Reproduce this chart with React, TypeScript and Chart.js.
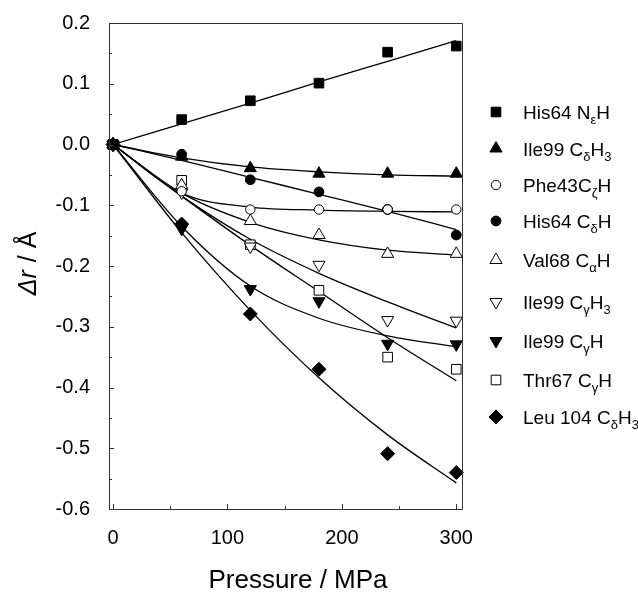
import React, { useEffect, useRef } from "react";
import { Chart, registerables } from "chart.js";
Chart.register(...registerables);

// ---------- data ----------
const pressure = [0, 60, 120, 180, 240, 300];

const seriesNames = [
  "His64 N{ε}H",
  "Ile99 C{δ}H{3}",
  "Phe43C{ζ}H",
  "His64 C{δ}H",
  "Val68 C{α}H",
  "Ile99 C{γ}H{3}",
  "Ile99 C{γ}H",
  "Thr67 C{γ}H",
  "Leu 104 C{δ}H{3}",
];

const his64NeH = [0, 0.041, 0.072, 0.101, 0.152, 0.162];
const ile99CdH3 = [0, -0.02, -0.039, -0.048, -0.048, -0.048];
const phe43CzH = [0, -0.077, -0.107, -0.107, -0.107, -0.107];
const his64CdH = [0, -0.016, -0.058, -0.078, -0.107, -0.149];
const val68CaH = [0, -0.067, -0.126, -0.149, -0.18, -0.18];
const ile99CgH3 = [0, -0.079, -0.168, -0.198, -0.289, -0.29];
const ile99CgH = [0, -0.139, -0.238, -0.258, -0.328, -0.329];
const thr67CgH = [0, -0.059, -0.165, -0.24, -0.35, -0.37];
const leu104CdH3 = [0, -0.131, -0.279, -0.37, -0.509, -0.54];

// fitted curves
const fitPressure = [0, 60, 120, 180, 240, 300];
const his64NeHFit = [0, 0.034, 0.068, 0.103, 0.137, 0.171];
const ile99CdH3Fit = [0, -0.022, -0.037, -0.045, -0.05, -0.052];
const phe43CzHFit = [0, -0.08, -0.103, -0.108, -0.11, -0.111];
const his64CdHFit = [0, -0.026, -0.054, -0.082, -0.11, -0.14];
const val68CaHFit = [0, -0.08, -0.128, -0.157, -0.174, -0.182];
const ile99CgH3Fit = [0, -0.085, -0.156, -0.212, -0.259, -0.302];
const ile99CgHFit = [0, -0.135, -0.233, -0.286, -0.315, -0.333];
const thr67CgHFit = [0, -0.085, -0.166, -0.242, -0.318, -0.389];
const leu104CdH3Fit = [0, -0.145, -0.273, -0.384, -0.478, -0.557];

const xTickValues = [0, 100, 200, 300];
const xMinorTickValues = [50, 150, 250];
const yTickValues = [0.2, 0.1, 0.0, -0.1, -0.2, -0.3, -0.4, -0.5, -0.6];
const yMinorTickValues = [0.15, 0.05, -0.05, -0.15, -0.25, -0.35, -0.45, -0.55];

const xTitle = "Pressure / MPa";
const yTitleItalic = "Δr";
const yTitleRest = " / Å";

// ---------- styling ----------
const FONT = "'Liberation Sans', Arial, Helvetica, sans-serif";

type Marker = { style: string; radius: number; filled: boolean; rotation: number };
const markers: Marker[] = [
  { style: "rect", radius: 6.8, filled: true, rotation: 0 },
  { style: "triangle", radius: 7, filled: true, rotation: 0 },
  { style: "circle", radius: 4.7, filled: false, rotation: 0 },
  { style: "circle", radius: 4.9, filled: true, rotation: 0 },
  { style: "triangle", radius: 7, filled: false, rotation: 0 },
  { style: "triangle", radius: 7, filled: false, rotation: 180 },
  { style: "triangle", radius: 7, filled: true, rotation: 180 },
  { style: "rect", radius: 6.8, filled: false, rotation: 0 },
  { style: "rectRot", radius: 7, filled: true, rotation: 0 },
];

const pointSeries = [his64NeH, ile99CdH3, phe43CzH, his64CdH, val68CaH, ile99CgH3, ile99CgH, thr67CgH, leu104CdH3];
const fitSeries = [his64NeHFit, ile99CdH3Fit, phe43CzHFit, his64CdHFit, val68CaHFit, ile99CgH3Fit, ile99CgHFit, thr67CgHFit, leu104CdH3Fit];

function plainName(n: string) {
  return n.replace(/[{}]/g, "");
}

function parseName(n: string): { text: string; sub: boolean }[] {
  const parts: { text: string; sub: boolean }[] = [];
  const re = /\{([^}]*)\}|([^{]+)/g;
  let m: RegExpExecArray | null;
  while ((m = re.exec(n))) {
    if (m[1] !== undefined) parts.push({ text: m[1], sub: true });
    else parts.push({ text: m[2], sub: false });
  }
  return parts;
}

function drawMarker(ctx: CanvasRenderingContext2D, mk: Marker, x: number, y: number) {
  const r = mk.radius;
  ctx.save();
  ctx.beginPath();
  if (mk.style === "circle") {
    ctx.arc(x, y, r, 0, Math.PI * 2);
  } else if (mk.style === "rect") {
    const s = Math.SQRT1_2 * r;
    ctx.rect(x - s, y - s, 2 * s, 2 * s);
  } else if (mk.style === "rectRot") {
    ctx.moveTo(x - r, y);
    ctx.lineTo(x, y - r);
    ctx.lineTo(x + r, y);
    ctx.lineTo(x, y + r);
    ctx.closePath();
  } else if (mk.style === "triangle") {
    let rad = (mk.rotation * Math.PI) / 180;
    ctx.moveTo(x + Math.sin(rad) * r, y - Math.cos(rad) * r);
    rad += (2 * Math.PI) / 3;
    ctx.lineTo(x + Math.sin(rad) * r, y - Math.cos(rad) * r);
    rad += (2 * Math.PI) / 3;
    ctx.lineTo(x + Math.sin(rad) * r, y - Math.cos(rad) * r);
    ctx.closePath();
  }
  ctx.fillStyle = mk.filled ? "#000" : "#fff";
  ctx.fill();
  ctx.lineWidth = 1;
  ctx.strokeStyle = "#000";
  ctx.stroke();
  ctx.restore();
}

const legendRowsY = [112, 148.5, 185, 221, 260, 302, 341, 380, 417];

const decorPlugin = {
  id: "decor",
  afterDatasetsDraw(chart: any) {
    const ctx: CanvasRenderingContext2D = chart.ctx;
    const { left, right, top, bottom } = chart.chartArea;
    const xs = chart.scales.x;
    const ys = chart.scales.y;
    ctx.save();
    ctx.strokeStyle = "#333";
    ctx.lineWidth = 1;
    ctx.beginPath();
    ctx.rect(Math.round(left) + 0.5, Math.round(top) + 0.5, Math.round(right - left), Math.round(bottom - top));
    ctx.stroke();
    ctx.beginPath();
    const major = 5;
    const minor = 3;
    xTickValues.forEach((v) => {
      const px = Math.round(xs.getPixelForValue(v)) + 0.5;
      ctx.moveTo(px, bottom);
      ctx.lineTo(px, bottom - major);
    });
    xMinorTickValues.forEach((v) => {
      const px = Math.round(xs.getPixelForValue(v)) + 0.5;
      ctx.moveTo(px, bottom);
      ctx.lineTo(px, bottom - minor);
    });
    yTickValues.forEach((v) => {
      const py = Math.round(ys.getPixelForValue(v)) + 0.5;
      ctx.moveTo(left, py);
      ctx.lineTo(left + major, py);
    });
    yMinorTickValues.forEach((v) => {
      const py = Math.round(ys.getPixelForValue(v)) + 0.5;
      ctx.moveTo(left, py);
      ctx.lineTo(left + minor, py);
    });
    ctx.stroke();
    ctx.restore();
  },
  afterDraw(chart: any) {
    const ctx: CanvasRenderingContext2D = chart.ctx;
    const { top, bottom } = chart.chartArea;
    ctx.save();
    ctx.fillStyle = "#000";
    // x title
    ctx.font = `26px ${FONT}`;
    ctx.textAlign = "center";
    ctx.textBaseline = "alphabetic";
    ctx.fillText(xTitle, 298, 588);
    // y title (rotated)
    ctx.save();
    const cy = (top + bottom) / 2 - 2;
    ctx.translate(36, cy);
    ctx.rotate(-Math.PI / 2);
    ctx.textAlign = "left";
    ctx.font = `italic 25px ${FONT}`;
    const w1 = ctx.measureText(yTitleItalic).width;
    ctx.font = `25px ${FONT}`;
    const w2 = ctx.measureText(yTitleRest).width;
    const start = -(w1 + w2) / 2;
    ctx.font = `italic 25px ${FONT}`;
    ctx.fillText(yTitleItalic, start, 0);
    ctx.font = `25px ${FONT}`;
    ctx.fillText(yTitleRest, start + w1 + 1, 0);
    ctx.restore();
    // legend
    const mx = 496;
    const tx = 523;
    seriesNames.forEach((name, i) => {
      const y = legendRowsY[i];
      drawMarker(ctx, markers[i], mx, y);
      let x = tx;
      ctx.textAlign = "left";
      ctx.textBaseline = "alphabetic";
      parseName(name).forEach((p) => {
        if (p.sub) {
          ctx.font = `13px ${FONT}`;
          ctx.fillText(p.text, x, y + 12);
        } else {
          ctx.font = `19px ${FONT}`;
          ctx.fillText(p.text, x, y + 7);
        }
        x += ctx.measureText(p.text).width;
      });
    });
    ctx.restore();
  },
};

export default function App() {
  const canvasRef = useRef<HTMLCanvasElement | null>(null);

  useEffect(() => {
    const canvas = canvasRef.current;
    if (!canvas) return;

    const markerSets = pointSeries.map((vals, i) => {
      const mk = markers[i];
      return {
        type: "scatter" as const,
        label: plainName(seriesNames[i]),
        data: vals.map((v, j) => ({ x: pressure[j], y: v })),
        showLine: false,
        pointStyle: mk.style,
        pointRadius: mk.radius,
        pointRotation: mk.rotation,
        pointBackgroundColor: mk.filled ? "#000" : "#fff",
        pointBorderColor: "#000",
        pointBorderWidth: 1,
        order: 0,
        clip: false,
      };
    });

    const lineSets = fitSeries.map((vals, i) => ({
      type: "scatter" as const,
      label: plainName(seriesNames[i]) + " fit",
      data: vals.map((v, j) => ({ x: fitPressure[j], y: v })),
      showLine: true,
      borderColor: "#000",
      borderWidth: 1.3,
      pointRadius: 0,
      cubicInterpolationMode: "monotone" as const,
      order: 1,
    }));

    const chart = new Chart(canvas, {
      type: "scatter",
      data: { datasets: [...markerSets, ...lineSets] as any },
      options: {
        animation: false,
        responsive: false,
        maintainAspectRatio: false,
        layout: { padding: { left: 0, right: 176, top: 20, bottom: 0 } },
        plugins: {
          legend: { display: false },
          tooltip: { enabled: false },
        },
        scales: {
          x: {
            type: "linear",
            min: -3.5,
            max: 305,
            afterFit: (s: any) => {
              s.height = 84;
            },
            afterBuildTicks: (s: any) => {
              s.ticks = xTickValues.map((v) => ({ value: v }));
            },
            grid: { display: false },
            border: { display: false },
            ticks: {
              font: { family: FONT, size: 20 },
              color: "#000",
              padding: 9,
              maxRotation: 0,
              callback: (v: any) => String(v),
            },
          },
          y: {
            type: "linear",
            min: -0.6,
            max: 0.2,
            afterFit: (s: any) => {
              s.width = 109;
            },
            afterBuildTicks: (s: any) => {
              s.ticks = yTickValues.map((v) => ({ value: v }));
            },
            grid: { display: false },
            border: { display: false },
            ticks: {
              font: { family: FONT, size: 20 },
              color: "#000",
              padding: 11,
              callback: (v: any) => Number(v).toFixed(1),
            },
          },
        },
      },
      plugins: [decorPlugin],
    });

    return () => {
      chart.destroy();
    };
  }, []);

  return (
    <div style={{ position: "absolute", left: 0, top: 0, width: 638, height: 593, background: "#fff" }}>
      <canvas ref={canvasRef} width={638} height={593} style={{ width: 638, height: 593, display: "block" }} />
    </div>
  );
}
